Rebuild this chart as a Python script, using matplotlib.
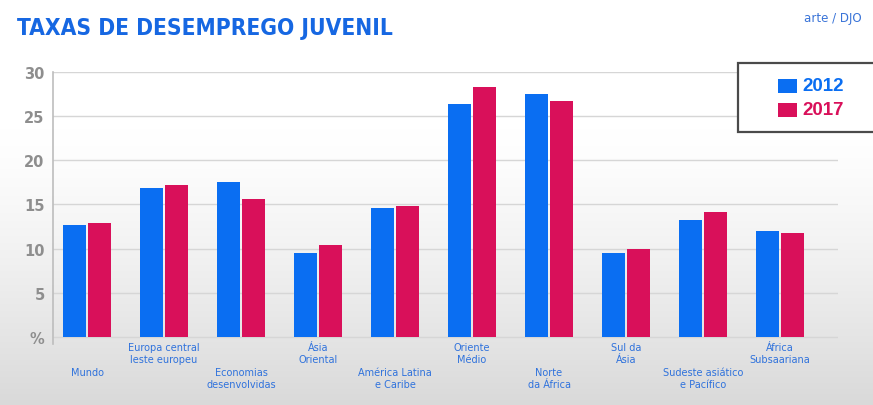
import numpy as np
import matplotlib
matplotlib.use("Agg")
import matplotlib.pyplot as plt
from matplotlib.patches import Rectangle
from matplotlib import font_manager as fm

# ---- data ----
categories = [
    "Mundo",
    "Europa central\nleste europeu",
    "Economias\ndesenvolvidas",
    "Ásia\nOriental",
    "América Latina\ne Caribe",
    "Oriente\nMédio",
    "Norte\nda África",
    "Sul da\nÁsia",
    "Sudeste asiático\ne Pacífico",
    "África\nSubsaariana",
]
label_tier = [1, 0, 1, 0, 1, 0, 1, 0, 1, 0]  # 0 = upper row, 1 = lower row
values_2012 = [12.7, 16.9, 17.5, 9.5, 14.6, 26.4, 27.5, 9.5, 13.2, 12.0]
values_2017 = [12.95, 17.2, 15.6, 10.4, 14.8, 28.3, 26.7, 9.9, 14.2, 11.75]
series_names = ["2012", "2017"]
ytick_values = [0, 5, 10, 15, 20, 25, 30]
ytick_labels = ["%", "5", "10", "15", "20", "25", "30"]
title = "TAXAS DE DESEMPREGO JUVENIL"
credit = "arte / DJO"

BLUE = "#0a6ef2"
RED = "#d9105a"
W, H = 873, 406

fig = plt.figure(figsize=(W / 100, H / 100), dpi=100)

# background gradient
bg = fig.add_axes([0, 0, 1, 1], zorder=-10)
ys = np.arange(H)
t = np.clip((ys - 130) / 276.0, 0, None)
vals = (255 - 38 * t ** 1.3) / 255.0
img = np.repeat(vals[:, None], 4, axis=1)
bg.imshow(np.dstack([img, img, img]), aspect="auto", extent=[0, 1, 0, 1],
          origin="upper", interpolation="bilinear")
bg.set_axis_off()

# main axes
left, right = 53 / W, 838 / W
bottom, top = 1 - 344.7 / H, 1 - 73.3 / H
ax = fig.add_axes([left, bottom, right - left, top - bottom])
ax.set_facecolor("none")

x = np.arange(len(categories))
bw = 0.292
off = 0.1625
ax.bar(x - off, values_2012, bw, color=BLUE, zorder=3)
ax.bar(x + off, values_2017, bw, color=RED, zorder=3)

ax.set_xlim(-0.4416, 9.753)
ax.set_ylim(-0.8, 30)

ax.set_yticks(ytick_values)
ax.set_yticklabels(ytick_labels, fontsize=10.5, fontweight="bold",
                   color="#8e8e8e", family="DejaVu Sans")
ax.yaxis.grid(True, color="#d6d6d6", lw=1)
ax.set_axisbelow(True)

xlabels = [("\n\n" if tier else "") + c for c, tier in zip(categories, label_tier)]
ax.set_xticks(x)
ax.set_xticklabels(xlabels, fontsize=7, color="#2f72dc", linespacing=1.27,
                   family="DejaVu Sans")
ax.tick_params(axis="x", length=0, pad=-1)
ax.tick_params(axis="y", length=0, pad=6)

for s in ["top", "right", "bottom"]:
    ax.spines[s].set_visible(False)
ax.spines["left"].set_color("#bdbdbd")
ax.spines["left"].set_linewidth(1.2)

# title: pick a condensed bold face if one is installed
fp = fm.FontProperties(family="DejaVu Sans", weight="bold", stretch="condensed")
path = fm.findfont(fp)
condensed = "ondensed" in path or "Narrow" in path
fig.text(17 / W, 1 - 28.5 / H, title,
         fontsize=16.3 if condensed else 15.5, fontweight="bold",
         fontstretch="condensed", color="#1667e2",
         family="DejaVu Sans", ha="left", va="center")
fig.text(804 / W, 1 - 18.5 / H, credit, fontsize=8.6, color="#3a74d8",
         ha="left", va="center")

# legend box (drawn manually)
fig.patches.append(Rectangle((738 / W, 1 - 133 / H), 150 / W, 69 / H,
                             transform=fig.transFigure, facecolor="white",
                             edgecolor="#4a4a4a", lw=1.6, zorder=5))
for i, (name, col) in enumerate(zip(series_names, [BLUE, RED])):
    yc = 86.5 + i * 24
    fig.patches.append(Rectangle((778 / W, 1 - (yc + 7) / H), 19 / W, 14 / H,
                                 transform=fig.transFigure, facecolor=col,
                                 edgecolor="none", zorder=6))
    fig.text(802 / W, 1 - yc / H, name, fontsize=13.5, fontweight="bold",
             color=col, family="Liberation Sans", ha="left", va="center",
             zorder=7)

fig.savefig("out.png", dpi=100)
